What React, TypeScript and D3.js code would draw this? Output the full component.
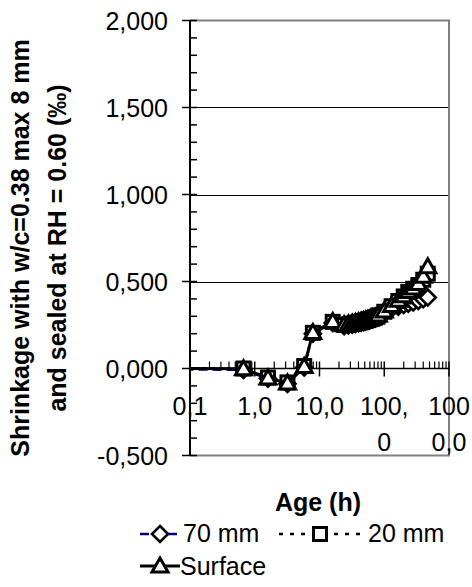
import React from "react";
import * as d3 from "d3";

const ages = [0.05, 0.67, 1.6, 3.2, 5.8, 7.9, 16, 24, 28, 32, 36, 40, 44, 48, 52, 56, 60, 66, 72, 81, 100, 130, 165, 200, 235, 280, 336, 400, 470];
const surface = [0, -2, -55, -84, 12, 207, 270, 252, 256, 260, 264, 268, 271, 275, 278, 282, 285, 290, 295, 308, 330, 362, 392, 418, 443, 462, 488, 530, 585];
const mm20 = [0, 0, -52, -80, 14, 205, 268, 250, 254, 258, 262, 266, 269, 273, 276, 280, 283, 288, 293, 305, 326, 358, 388, 414, 440, 458, 480, 510, 545];
const mm70 = [-4, -8, -58, -88, 6, 200, 262, 244, 248, 252, 256, 260, 263, 267, 270, 274, 277, 282, 287, 298, 318, 345, 356, 366, 372, 380, 388, 398, 408];

const yTicks = [-500, 0, 500, 1000, 1500, 2000];
const yTickLabels = ["-0,500", "0,000", "0,500", "1,000", "1,500", "2,000"];
const xTicks = [0.1, 1, 10, 100, 1000];
const xTickLabels = [["0,1"], ["1,0"], ["10,0"], ["100,", "0"], ["100", "0,0"]];

const FONT = "'Liberation Sans', Arial, sans-serif";
const FS = 25;

function Marker({ kind, x, y }: { kind: string; x: number; y: number }) {
  if (kind === "square") {
    return <rect x={x - 6.5} y={y - 6.5} width={13} height={13} fill="#fff" stroke="#000" strokeWidth={3} />;
  }
  if (kind === "triangle") {
    return <path d={`M${x},${y - 8}L${x + 8},${y + 6}L${x - 8},${y + 6}Z`} fill="#fff" stroke="#000" strokeWidth={3} strokeLinejoin="miter" />;
  }
  return <path d={`M${x},${y - 8}L${x + 8},${y}L${x},${y + 8}L${x - 8},${y}Z`} fill="#fff" stroke="#000" strokeWidth={2.6} />;
}

export default function App() {
  const left = 190, right = 449, top = 20.5, bottom = 455.5;
  const x = d3.scaleLog().domain([0.1, 1000]).range([left, right]);
  const y = d3.scaleLinear().domain([-500, 2000]).range([bottom, top]);
  const line = d3.line<[number, number]>().x((d) => x(d[0])).y((d) => y(d[1]));

  const series = [
    { name: "70 mm", vals: mm70, color: "#000080", dash: "9,5", marker: "diamond", w: 2.5 },
    { name: "20 mm", vals: mm20, color: "#000", dash: "4,4", marker: "square", w: 2.5 },
    { name: "Surface", vals: surface, color: "#000", dash: "", marker: "triangle", w: 3 },
  ];

  const minorX: number[] = [];
  for (let dec = 0.1; dec < 1000; dec *= 10) {
    for (let k = 2; k <= 9; k++) minorX.push(dec * k);
  }
  const minorY = d3.range(-500, 2001, 100).filter((v) => v % 500 !== 0);

  return (
    <svg width={472} height={587} style={{ position: "absolute", left: 0, top: 0 }} fontFamily={FONT}>
      <rect width={472} height={587} fill="#fff" />
      <defs>
        <clipPath id="plot">
          <rect x={left} y={top - 10} width={right - left + 10} height={bottom - top + 20} />
        </clipPath>
      </defs>
      {[500, 1000, 1500].map((v) => (
        <line key={v} x1={left} x2={right} y1={Math.round(y(v)) + 0.5} y2={Math.round(y(v)) + 0.5} stroke="#000" strokeWidth={1} />
      ))}
      <path d={`M${left},${top}H${right}V${bottom}H${left}`} fill="none" stroke="#808080" strokeWidth={2} />
      <line x1={left} x2={left} y1={top} y2={bottom} stroke="#000" strokeWidth={2} />
      {yTicks.map((v) => (
        <line key={v} x1={182} x2={197} y1={y(v)} y2={y(v)} stroke="#000" strokeWidth={1.5} />
      ))}
      {minorY.map((v) => (
        <line key={v} x1={left} x2={197} y1={y(v)} y2={y(v)} stroke="#000" strokeWidth={1.5} />
      ))}
      {yTicks.map((v, i) => (
        <text key={v} x={168} y={y(v) + 9} textAnchor="end" fontSize={FS} fill="#000">
          {yTickLabels[i]}
        </text>
      ))}
      <line x1={left} x2={right} y1={y(0)} y2={y(0)} stroke="#000" strokeWidth={1.5} />
      {xTicks.map((v) => (
        <line key={v} x1={x(v)} x2={x(v)} y1={y(0) - 7} y2={y(0) + 8} stroke="#000" strokeWidth={1.5} />
      ))}
      {minorX.map((v) => (
        <line key={v} x1={x(v)} x2={x(v)} y1={y(0) - 7} y2={y(0)} stroke="#000" strokeWidth={1.2} />
      ))}
      {xTicks.map((v, i) => (
        <text key={v} x={x(v)} y={415} textAnchor="middle" fontSize={FS} fill="#000">
          {xTickLabels[i].map((s, j) => (
            <tspan key={j} x={x(v)} dy={j === 0 ? 0 : 36}>
              {s}
            </tspan>
          ))}
        </text>
      ))}
      <g clipPath="url(#plot)">
        {series.map((s) => (
          <g key={s.name}>
            <path
              d={line(ages.map((a, i) => [a, s.vals[i]] as [number, number])) || ""}
              fill="none"
              stroke={s.color}
              strokeWidth={s.w}
              strokeDasharray={s.dash}
            />
            {ages.map((a, i) => (
              <Marker key={i} kind={s.marker} x={x(a)} y={y(s.vals[i])} />
            ))}
          </g>
        ))}
      </g>
      <text x={318} y={511} textAnchor="middle" fontSize={FS} fontWeight="bold" fill="#000">
        Age (h)
      </text>
      <g transform="translate(29,248) rotate(-90)">
        <text x={0} y={0} textAnchor="middle" fontSize={FS} fontWeight="bold" fill="#000">
          Shrinkage with w/c=0.38 max 8 mm
        </text>
      </g>
      <g transform="translate(66,248) rotate(-90)">
        <text x={0} y={0} textAnchor="middle" fontSize={FS} fontWeight="bold" fill="#000">
          and sealed at RH = 0.60 (‰)
        </text>
      </g>
      <g>
        <line x1={140} x2={180} y1={534} y2={534} stroke="#000080" strokeWidth={2.5} strokeDasharray="9,5" />
        <Marker kind="diamond" x={160} y={534} />
        <text x={183} y={542} fontSize={FS} fill="#000">70 mm</text>
        <line x1={279} x2={364} y1={534} y2={534} stroke="#000" strokeWidth={2.5} strokeDasharray="4,7" />
        <Marker kind="square" x={320} y={534} />
        <text x={368} y={542} fontSize={FS} fill="#000">20 mm</text>
        <line x1={140} x2={180} y1={566} y2={566} stroke="#000" strokeWidth={3} />
        <Marker kind="triangle" x={160} y={566} />
        <text x={180} y={575} fontSize={FS} fill="#000">Surface</text>
      </g>
    </svg>
  );
}
